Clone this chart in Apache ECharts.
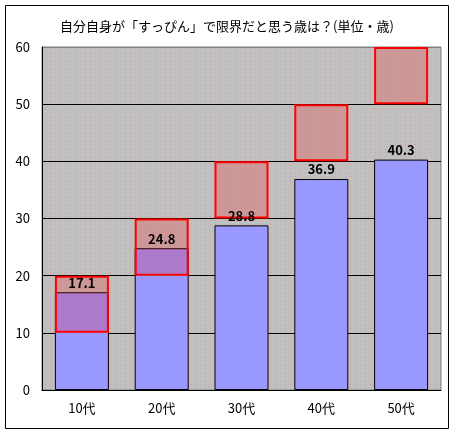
<!DOCTYPE html>
<html><head><meta charset="utf-8">
<script src="https://cdn.jsdelivr.net/npm/echarts@6/dist/echarts.min.js"></script>
<style>html,body{margin:0;padding:0;background:#fff}#c{width:454px;height:433px}</style>
</head><body><div id="c"></div>
<script>
const categories = ['10代','20代','30代','40代','50代'];
const values = [17.1, 24.8, 28.8, 36.9, 40.3];
const rangeLow = [10, 20, 30, 40, 50];
const rangeHigh = [20, 30, 40, 50, 60];
const yTicks = [0, 10, 20, 30, 40, 50, 60];
const titleText = '自分自身が「すっぴん」で限界だと思う歳は？(単位・歳)';

const pc = document.createElement('canvas');
pc.width = 5; pc.height = 4;
const g = pc.getContext('2d');
g.fillStyle = '#c0c0c0'; g.fillRect(0,0,5,4);
g.fillStyle = '#dc9c9c'; g.fillRect(0,0,1,1);

const font = "'Noto Sans CJK JP', sans-serif";
const chart = echarts.init(document.getElementById('c'));
chart.setOption({
  animation: false,
  textStyle: {fontFamily: font},
  title: {text: titleText, left: 'center', top: 15,
    textStyle: {fontSize: 13, fontWeight: 'normal', color: '#000', fontFamily: font}},
  grid: {left: 42, right: 13, top: 47, bottom: 43, show: true,
    backgroundColor: {image: pc, repeat: 'repeat'}, borderColor: '#808080', borderWidth: 1},
  xAxis: {type: 'category', data: categories,
    axisLine: {lineStyle: {color: '#000'}},
    axisTick: {inside: true, length: 4, lineStyle: {color: '#000'}},
    axisLabel: {color: '#000', fontSize: 13, margin: 12, fontFamily: font}},
  yAxis: {type: 'value', min: yTicks[0], max: yTicks[yTicks.length-1], interval: 10,
    axisLine: {show: true, lineStyle: {color: '#000'}},
    axisTick: {show: false},
    splitLine: {lineStyle: {color: ['#000','#000','#000','#000','#000','#000','#808080'], width: 1}},
    axisLabel: {color: '#000', fontSize: 13, margin: 12, fontFamily: font}},
  series: [
    {type: 'bar', data: values, barWidth: 54, barGap: '-100%',
      itemStyle: {color: '#9999ff', borderColor: '#000', borderWidth: 1},
      label: {show: true, position: 'top', distance: 3, color: '#000', fontSize: 13, fontWeight: 'bold', fontFamily: font, formatter: p => p.value.toFixed(1)}},
    {type: 'bar', stack: 'box', data: rangeLow, barWidth: 54,
      itemStyle: {color: 'rgba(0,0,0,0)'}, silent: true},
    {type: 'bar', stack: 'box', data: rangeHigh.map((h, i) => h - rangeLow[i]), barWidth: 54,
      itemStyle: {color: 'rgba(255,0,0,0.2)', borderColor: '#ff0000', borderWidth: 2}}
  ],
  graphic: [{type: 'rect', shape: {x: 5.5, y: 5.5, width: 443, height: 423},
    style: {fill: 'none', stroke: '#000', lineWidth: 1}, z: 100}]
});
</script></body></html>
